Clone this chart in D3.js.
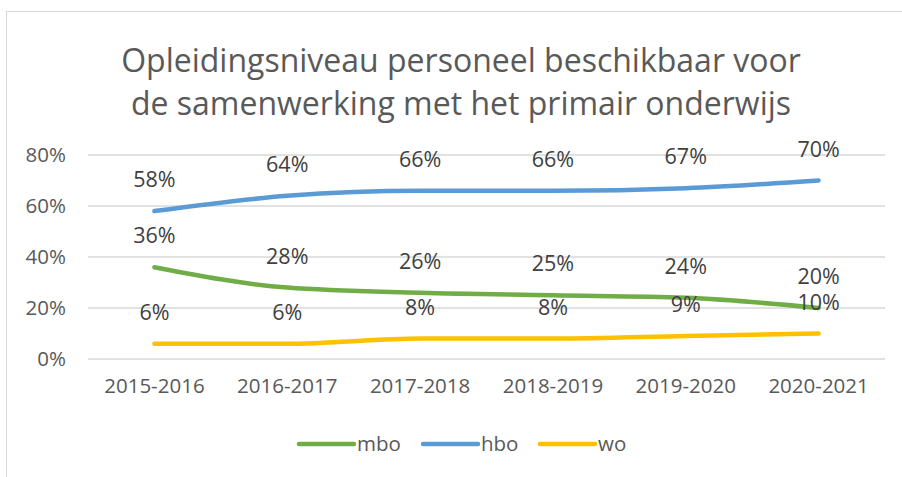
<!DOCTYPE html>
<html>
<head>
<meta charset="utf-8">
<script src="https://cdn.jsdelivr.net/npm/d3@7"></script>
<style>
  body { margin: 0; background: #fff; }
  svg { font-family: "Open Sans", sans-serif; }
  .grid line { stroke: #d9d9d9; stroke-width: 1.3; }
  .lbl { fill: #404040; font-size: 21.5px; }
</style>
</head>
<body>
<svg width="902" height="477"></svg>
<script>
const categories = ['2015-2016', '2016-2017', '2017-2018', '2018-2019', '2019-2020', '2020-2021'];
const mbo = [36, 28, 26, 25, 24, 20];
const hbo = [58, 64, 66, 66, 67, 70];
const wo  = [6, 6, 8, 8, 9, 10];
const yTicks = [0, 20, 40, 60, 80];
const titleLines = ['Opleidingsniveau personeel beschikbaar voor', 'de samenwerking met het primair onderwijs'];

const series = [
  {name: 'mbo', values: mbo, color: '#70ad47'},
  {name: 'hbo', values: hbo, color: '#5b9bd5'},
  {name: 'wo',  values: wo,  color: '#ffc000'}
];

const svg = d3.select('svg');

// chart frame
svg.append('rect')
    .attr('x', 6.5).attr('y', 11.5)
    .attr('width', 902).attr('height', 470)
    .attr('fill', 'none').attr('stroke', '#d9d9d9');

// title
svg.append('g').selectAll('text').data(titleLines)
  .enter().append('text')
    .attr('x', 461)
    .attr('y', (d, i) => 72 + i * 43)
    .attr('text-anchor', 'middle')
    .attr('fill', '#595959')
    .style('font-size', '32px')
    .text(d => d);

const x = d3.scaleBand().domain(categories).range([88, 885]);
const y = d3.scaleLinear().domain([0, 80]).range([359, 155]);

// gridlines
svg.append('g').attr('class', 'grid')
  .selectAll('line').data(yTicks)
  .enter().append('line')
    .attr('x1', 88).attr('x2', 885)
    .attr('y1', d => y(d)).attr('y2', d => y(d));

// y axis
const yAxis = svg.append('g')
    .attr('transform', 'translate(66,0)')
    .call(d3.axisLeft(y).tickValues(yTicks).tickFormat(d => d + '%').tickSize(0).tickPadding(0));
yAxis.select('.domain').remove();
yAxis.selectAll('text').attr('fill', '#595959').style('font-size', '20.5px').attr('font-family', '"Open Sans", sans-serif');

// x axis
const xAxis = svg.append('g')
    .attr('transform', 'translate(0,370)')
    .call(d3.axisBottom(x).tickSize(0).tickPadding(8));
xAxis.select('.domain').remove();
xAxis.selectAll('text').attr('fill', '#595959').style('font-size', '20.5px').attr('font-family', '"Open Sans", sans-serif');

const cx = d => x(d) + x.bandwidth() / 2;
const line = d3.line()
    .x((d, i) => cx(categories[i]))
    .y(d => y(d))
    .curve(d3.curveMonotoneX);

// lines
svg.append('g').selectAll('path').data(series)
  .enter().append('path')
    .attr('d', d => line(d.values))
    .attr('fill', 'none')
    .attr('stroke', d => d.color)
    .attr('stroke-width', 4.5)
    .attr('stroke-linecap', 'round');

// data labels
series.forEach(s => {
  svg.append('g').selectAll('text').data(s.values)
    .enter().append('text')
      .attr('class', 'lbl')
      .attr('x', (d, i) => cx(categories[i]))
      .attr('y', d => y(d) - 24)
      .attr('text-anchor', 'middle')
      .text(d => d + '%');
});

// legend
const legendX = [299, 423, 540];
const legend = svg.append('g').selectAll('g').data(series)
  .enter().append('g')
    .attr('transform', (d, i) => `translate(${legendX[i]},444)`);
legend.append('line')
    .attr('x1', 0).attr('x2', 55)
    .attr('stroke', d => d.color)
    .attr('stroke-width', 4.5)
    .attr('stroke-linecap', 'round');
legend.append('text')
    .attr('x', 58).attr('y', 7)
    .attr('fill', '#595959')
    .style('font-size', '20.5px')
    .text(d => d.name);
</script>
</body>
</html>
